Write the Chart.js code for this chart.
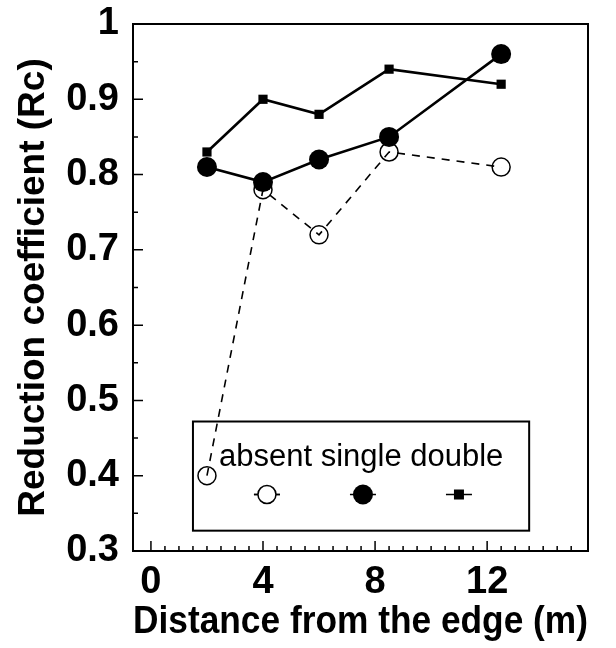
<!DOCTYPE html>
<html>
<head>
<meta charset="utf-8">
<script src="https://cdn.jsdelivr.net/npm/chart.js@4.4.1/dist/chart.umd.min.js"></script>
<style>
  html, body { margin: 0; padding: 0; background: #fff; }
  #wrap { width: 616px; height: 648px; }
</style>
</head>
<body>
<div id="wrap"><canvas id="rcChart" width="616" height="648"></canvas></div>
<script>
const distances = [2, 4, 6, 8.5, 12.5];
const absentRc = [0.40, 0.78, 0.72, 0.83, 0.81];
const singleRc = [0.81, 0.79, 0.82, 0.85, 0.96];
const doubleRc = [0.83, 0.90, 0.88, 0.94, 0.92];
const seriesLabels = ["absent", "single", "double"];
const xTicks = [0, 4, 8, 12];
const yTicks = [0.3, 0.4, 0.5, 0.6, 0.7, 0.8, 0.9, 1];

const boldFont = "'Liberation Sans', Arial, sans-serif";

function toPoints(values) {
  return distances.map((d, i) => ({ x: d, y: values[i] }));
}

// frame, inside ticks and the boxed legend
const framePlugin = {
  id: "frame",
  beforeDatasetsDraw(chart) {
    const { ctx, scales } = chart;
    const x = scales.x;
    const y = scales.y;
    const left = x.getPixelForValue(1.5);
    const right = x.getPixelForValue(13.5);
    const top = y.getPixelForValue(0.472);
    const bottom = y.getPixelForValue(0.327);

    ctx.save();
    ctx.strokeStyle = "#000";
    ctx.lineWidth = 2;
    ctx.strokeRect(left, top, right - left, bottom - top);

    ctx.fillStyle = "#000";
    ctx.font = "31px 'Liberation Sans', Arial, sans-serif";
    ctx.textBaseline = "alphabetic";
    ctx.textAlign = "left";
    ctx.fillText(seriesLabels.join(" "), left + 26, top + 44);

    const markY = top + 73;
    const markX = [left + 74, left + 170, left + 266];
    ctx.lineWidth = 1.5;
    markX.forEach((mx) => {
      ctx.beginPath();
      ctx.moveTo(mx - 13, markY);
      ctx.lineTo(mx + 13, markY);
      ctx.stroke();
    });
    ctx.beginPath();
    ctx.arc(markX[0], markY, 9, 0, Math.PI * 2);
    ctx.fillStyle = "#fff";
    ctx.fill();
    ctx.stroke();
    ctx.beginPath();
    ctx.moveTo(markX[0] - 13, markY);
    ctx.lineTo(markX[0] - 9, markY);
    ctx.moveTo(markX[0] + 9, markY);
    ctx.lineTo(markX[0] + 13, markY);
    ctx.stroke();
    ctx.fillStyle = "#000";
    ctx.beginPath();
    ctx.arc(markX[1], markY, 10, 0, Math.PI * 2);
    ctx.fill();
    ctx.fillRect(markX[2] - 5, markY - 5, 10, 10);
    ctx.restore();
  },
  afterDraw(chart) {
    const { ctx, chartArea, scales } = chart;
    ctx.save();
    ctx.strokeStyle = "#000";
    ctx.lineWidth = 2;
    ctx.strokeRect(chartArea.left, chartArea.top, chartArea.right - chartArea.left, chartArea.bottom - chartArea.top);

    ctx.lineWidth = 1.5;
    ctx.beginPath();
    for (let v = 0; v <= 15.001; v += 0.5) {
      const px = scales.x.getPixelForValue(v);
      const len = xTicks.includes(v) ? 10 : 5;
      ctx.moveTo(px, chartArea.bottom);
      ctx.lineTo(px, chartArea.bottom - len);
    }
    for (let k = 0; k <= 14; k++) {
      const v = 0.3 + k * 0.05;
      const py = scales.y.getPixelForValue(v);
      const len = k % 2 === 0 ? 10 : 5;
      ctx.moveTo(chartArea.left, py);
      ctx.lineTo(chartArea.left + len, py);
    }
    ctx.stroke();
    ctx.restore();
  },
};

new Chart(document.getElementById("rcChart"), {
  type: "line",
  data: {
    datasets: [
      {
        label: seriesLabels[0],
        data: toPoints(absentRc),
        borderColor: "#000",
        borderWidth: 1.6,
        borderDash: [8, 7],
        pointStyle: "circle",
        pointRadius: 9,
        pointBorderWidth: 1.5,
        pointBorderColor: "#000",
        pointBackgroundColor: "rgba(0,0,0,0)",
        order: 2,
      },
      {
        label: seriesLabels[1],
        data: toPoints(singleRc),
        borderColor: "#000",
        borderWidth: 2.6,
        pointStyle: "circle",
        pointRadius: 10,
        pointBorderWidth: 0,
        pointBackgroundColor: "#000",
        order: 0,
      },
      {
        label: seriesLabels[2],
        data: toPoints(doubleRc),
        borderColor: "#000",
        borderWidth: 2.6,
        pointStyle: "rect",
        pointRadius: 6.5,
        pointBorderWidth: 0,
        pointBackgroundColor: "#000",
        order: 1,
      },
    ],
  },
  options: {
    responsive: false,
    animation: false,
    events: [],
    layout: { padding: { top: 24, right: 28, left: 0, bottom: 0 } },
    plugins: {
      legend: { display: false },
      tooltip: { enabled: false },
    },
    scales: {
      x: {
        type: "linear",
        min: -0.64,
        max: 15.6,
        afterBuildTicks: (scale) => {
          scale.ticks = xTicks.map((v) => ({ value: v }));
        },
        afterFit: (scale) => {
          scale.height = 97;
          scale.paddingLeft = 0;
          scale.paddingRight = 0;
        },
        grid: { display: false, drawTicks: false },
        border: { display: false },
        ticks: {
          color: "#000",
          padding: 9,
          maxRotation: 0,
          autoSkip: false,
          font: { family: boldFont, size: 38, weight: "bold" },
        },
        title: {
          display: true,
          text: "Distance from the edge (m)",
          color: "#000",
          padding: { top: 0, bottom: 3 },
          font: { family: boldFont, size: 38, weight: "bold" },
        },
      },
      y: {
        type: "linear",
        min: 0.3,
        max: 1,
        afterBuildTicks: (scale) => {
          scale.ticks = yTicks.map((v) => ({ value: v }));
        },
        afterFit: (scale) => {
          scale.width = 133;
          scale.paddingTop = 0;
          scale.paddingBottom = 0;
        },
        grid: { display: false, drawTicks: false },
        border: { display: false },
        ticks: {
          color: "#000",
          padding: 14,
          autoSkip: false,
          callback: (v) => (v === 1 ? "1" : Number(v).toFixed(1)),
          font: { family: boldFont, size: 38, weight: "bold" },
        },
        title: {
          display: true,
          text: "Reduction coefficient (Rc)",
          color: "#000",
          padding: { top: 12, bottom: 0 },
          font: { family: boldFont, size: 37, weight: "bold" },
        },
      },
    },
  },
  plugins: [framePlugin],
});
</script>
</body>
</html>
